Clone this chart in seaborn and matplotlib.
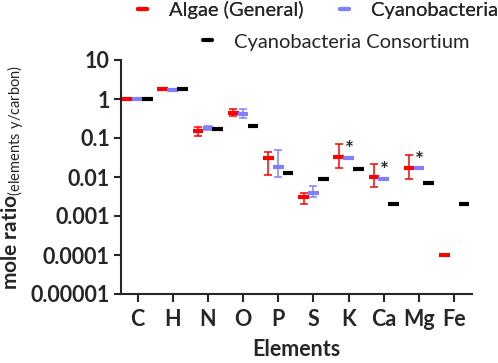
import numpy as np
import pandas as pd
import matplotlib
matplotlib.use("Agg")
import matplotlib.pyplot as plt
import seaborn as sns
from matplotlib.lines import Line2D

ELEMENTS = ["C", "H", "N", "O", "P", "S", "K", "Ca", "Mg", "Fe"]
SERIES = ["Algae (General)", "Cyanobacteria", "Cyanobacteria Consortium"]
COLORS = ["#ff0000", "#8080ff", "#000000"]

# mean values and error-bar limits (nan = not reported)
algae = [1.0, 1.8, 0.15, 0.45, 0.030, 0.0030, 0.032, 0.010, 0.017, 0.0001]
algae_lo = [1.0, 1.8, 0.11, 0.36, 0.011, 0.0020, 0.017, 0.0055, 0.009, 0.0001]
algae_hi = [1.0, 1.8, 0.19, 0.55, 0.045, 0.0040, 0.070, 0.021, 0.037, 0.0001]

cyano = [1.0, 1.7, 0.18, 0.42, 0.018, 0.0040, 0.031, 0.009, 0.017, np.nan]
cyano_lo = [1.0, 1.7, 0.16, 0.33, 0.010, 0.0031, 0.031, 0.009, 0.017, np.nan]
cyano_hi = [1.0, 1.7, 0.20, 0.55, 0.050, 0.0060, 0.031, 0.009, 0.017, np.nan]

consortium = [1.0, 1.8, 0.17, 0.20, 0.013, 0.009, 0.016, 0.002, 0.007, 0.002]

STARRED = ["K", "Ca", "Mg"]  # marked on the Cyanobacteria series

YTICKS = [10, 1, 0.1, 0.01, 0.001, 0.0001, 0.00001]
YTICKLABELS = ["10", "1", "0.1", "0.01", "0.001", "0.0001", "0.00001"]

OFFSETS = [-0.28, 0.0, 0.28]

rows = []
for s, (name, vals, lo, hi) in enumerate([
    (SERIES[0], algae, algae_lo, algae_hi),
    (SERIES[1], cyano, cyano_lo, cyano_hi),
    (SERIES[2], consortium, consortium, consortium),
]):
    for i, el in enumerate(ELEMENTS):
        rows.append({"element": el, "series": name, "x": i + OFFSETS[s],
                     "value": vals[i], "lo": lo[i], "hi": hi[i]})
df = pd.DataFrame(rows).dropna(subset=["value"])

sns.set_style("ticks")
plt.rcParams["font.family"] = ["Lato", "DejaVu Sans"]
plt.rcParams["mathtext.fontset"] = "custom"
plt.rcParams["mathtext.rm"] = "Lato"

fig = plt.figure(figsize=(4.98, 3.63), dpi=100)
ax = fig.add_axes([121 / 498, 1 - 294 / 363, 350.7 / 498, 234 / 363])

palette = dict(zip(SERIES, COLORS))

# error bars
for name in SERIES:
    d = df[(df["series"] == name) & (df["hi"] > df["lo"])]
    if len(d):
        ax.errorbar(d["x"], d["value"], yerr=[d["value"] - d["lo"], d["hi"] - d["value"]],
                    fmt="none", ecolor=palette[name], elinewidth=1.1, capsize=3.2, capthick=1.1)

# mean markers
sns.scatterplot(data=df, x="x", y="value", hue="series", palette=palette, marker="_",
                s=60, linewidth=3, legend=False, ax=ax, zorder=3)

# significance stars
for el in STARRED:
    i = ELEMENTS.index(el)
    ax.text(i + OFFSETS[1] + 0.02, cyano[i] * 1.55, "*", ha="center", va="center",
            fontsize=15, fontweight="bold")

ax.set_yscale("log")
ax.set_ylim(1e-5, 10)
ax.set_xlim(-0.47, 9.5)
ax.set_yticks(YTICKS)
ax.set_yticklabels(YTICKLABELS)
ax.yaxis.set_minor_locator(matplotlib.ticker.NullLocator())
ax.set_xticks(range(len(ELEMENTS)))
ax.set_xticklabels(ELEMENTS)
for lab in ax.get_xticklabels() + ax.get_yticklabels():
    lab.set_fontweight("bold")
    lab.set_fontsize(15.5)
ax.tick_params(width=1.5, length=5, pad=3)
ax.tick_params(axis="x", length=6, pad=5)
for sp in ["left", "bottom"]:
    ax.spines[sp].set_linewidth(1.5)
sns.despine(ax=ax)

ax.set_xlabel("Elements", fontsize=15.5, fontweight="bold", labelpad=6)
ax.set_ylabel(r"mole ratio$_{\mathrm{(elements\ y/carbon)}}$", fontsize=15, fontweight="bold")
ax.yaxis.set_label_coords(-0.272, 0.5)

h = [Line2D([], [], color=c, lw=3) for c in COLORS]
leg1 = fig.legend(h[:2], SERIES[:2], loc="center", bbox_to_anchor=(0.638, 1 - 10 / 363),
                  ncol=2, frameon=False, fontsize=14.5, handlelength=0.45,
                  handletextpad=1.1, columnspacing=1.8, borderpad=0)
leg2 = fig.legend(h[2:], SERIES[2:], loc="center", bbox_to_anchor=(0.675, 1 - 42 / 363),
                  frameon=False, fontsize=14.5, handlelength=0.45, handletextpad=1.1, borderpad=0)
fig.add_artist(leg1)

fig.savefig("out.png", dpi=100)
